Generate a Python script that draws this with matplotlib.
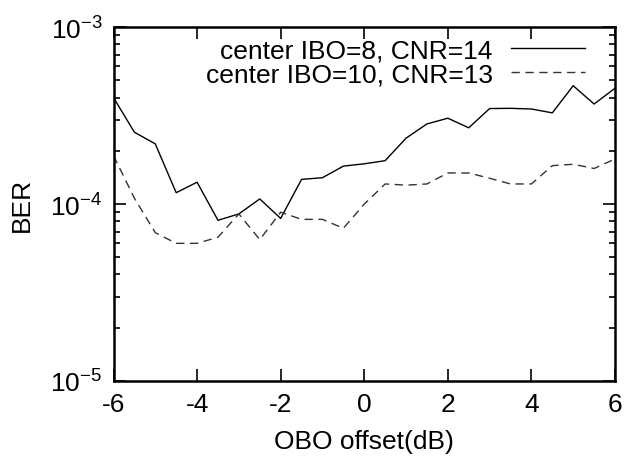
import math
import matplotlib
matplotlib.use('Agg')
import matplotlib.pyplot as plt
from matplotlib.ticker import FixedLocator, LogLocator, NullFormatter, FuncFormatter

plt.rcParams['font.family'] = ['Liberation Sans', 'DejaVu Sans']
plt.rcParams['mathtext.fontset'] = 'custom'
plt.rcParams['mathtext.rm'] = 'Liberation Sans'
plt.rcParams['mathtext.default'] = 'regular'
plt.rcParams['axes.unicode_minus'] = False

# OBO offset (dB)
obo = [-6, -5.5, -5, -4.5, -4, -3.5, -3, -2.5, -2, -1.5, -1, -0.5, 0,
       0.5, 1, 1.5, 2, 2.5, 3, 3.5, 4, 4.5, 5, 5.5, 6]

# BER, center IBO=8, CNR=14
ber_ibo8 = [4.0e-4, 2.55e-4, 2.19e-4, 1.16e-4, 1.33e-4, 8.1e-5, 8.8e-5,
            1.07e-4, 8.3e-5, 1.38e-4, 1.41e-4, 1.64e-4, 1.69e-4, 1.76e-4,
            2.36e-4, 2.84e-4, 3.06e-4, 2.70e-4, 3.47e-4, 3.48e-4, 3.45e-4,
            3.28e-4, 4.67e-4, 3.68e-4, 4.52e-4]

# BER, center IBO=10, CNR=13
ber_ibo10 = [1.88e-4, 1.08e-4, 6.9e-5, 6.0e-5, 6.0e-5, 6.5e-5, 8.8e-5,
             6.3e-5, 9.0e-5, 8.2e-5, 8.2e-5, 7.3e-5, 1.0e-4, 1.30e-4,
             1.28e-4, 1.30e-4, 1.50e-4, 1.50e-4, 1.40e-4, 1.30e-4, 1.30e-4,
             1.65e-4, 1.68e-4, 1.59e-4, 1.80e-4]

labels = ['center IBO=8, CNR=14', 'center IBO=10, CNR=13']
xticks = [-6, -4, -2, 0, 2, 4, 6]

FS = 19

fig = plt.figure(figsize=(6.25, 4.6), dpi=100)
ax = fig.add_axes([0.1816, 0.1696, 0.8024, 0.769])

ax.plot(obo, ber_ibo8, color='black', lw=1.0, label=labels[0])
ax.plot(obo, ber_ibo10, color='#333333', lw=1.0, dashes=(6, 4), label=labels[1])

ax.set_yscale('log')
ax.set_xlim(-6, 6)
ax.set_ylim(1e-5, 1e-3)

ax.xaxis.set_major_locator(FixedLocator(xticks))
ax.yaxis.set_major_locator(LogLocator(base=10))
ax.yaxis.set_minor_locator(LogLocator(base=10, subs=range(2, 10)))
ax.yaxis.set_minor_formatter(NullFormatter())
ax.yaxis.set_major_formatter(FuncFormatter(
    lambda v, p: r'$10^{%d}$' % round(math.log10(v))))

ax.tick_params(which='both', direction='in', top=True, right=True,
               labelsize=FS, colors='black')
ax.tick_params(which='major', length=8.5, width=1.2, pad=8)
ax.tick_params(which='minor', length=4, width=1.2)
for s in ax.spines.values():
    s.set_linewidth(1.8)

ax.set_xlabel('OBO offset(dB)', fontsize=FS, labelpad=9)
ax.set_ylabel('BER', fontsize=FS, labelpad=12)

ax.legend(loc='upper right', bbox_to_anchor=(0.94, 0.968), frameon=False,
          markerfirst=False, fontsize=FS, handlelength=2.8,
          handletextpad=0.7, labelspacing=0.0, borderpad=0,
          borderaxespad=0)

fig.savefig('out.png', dpi=100)
